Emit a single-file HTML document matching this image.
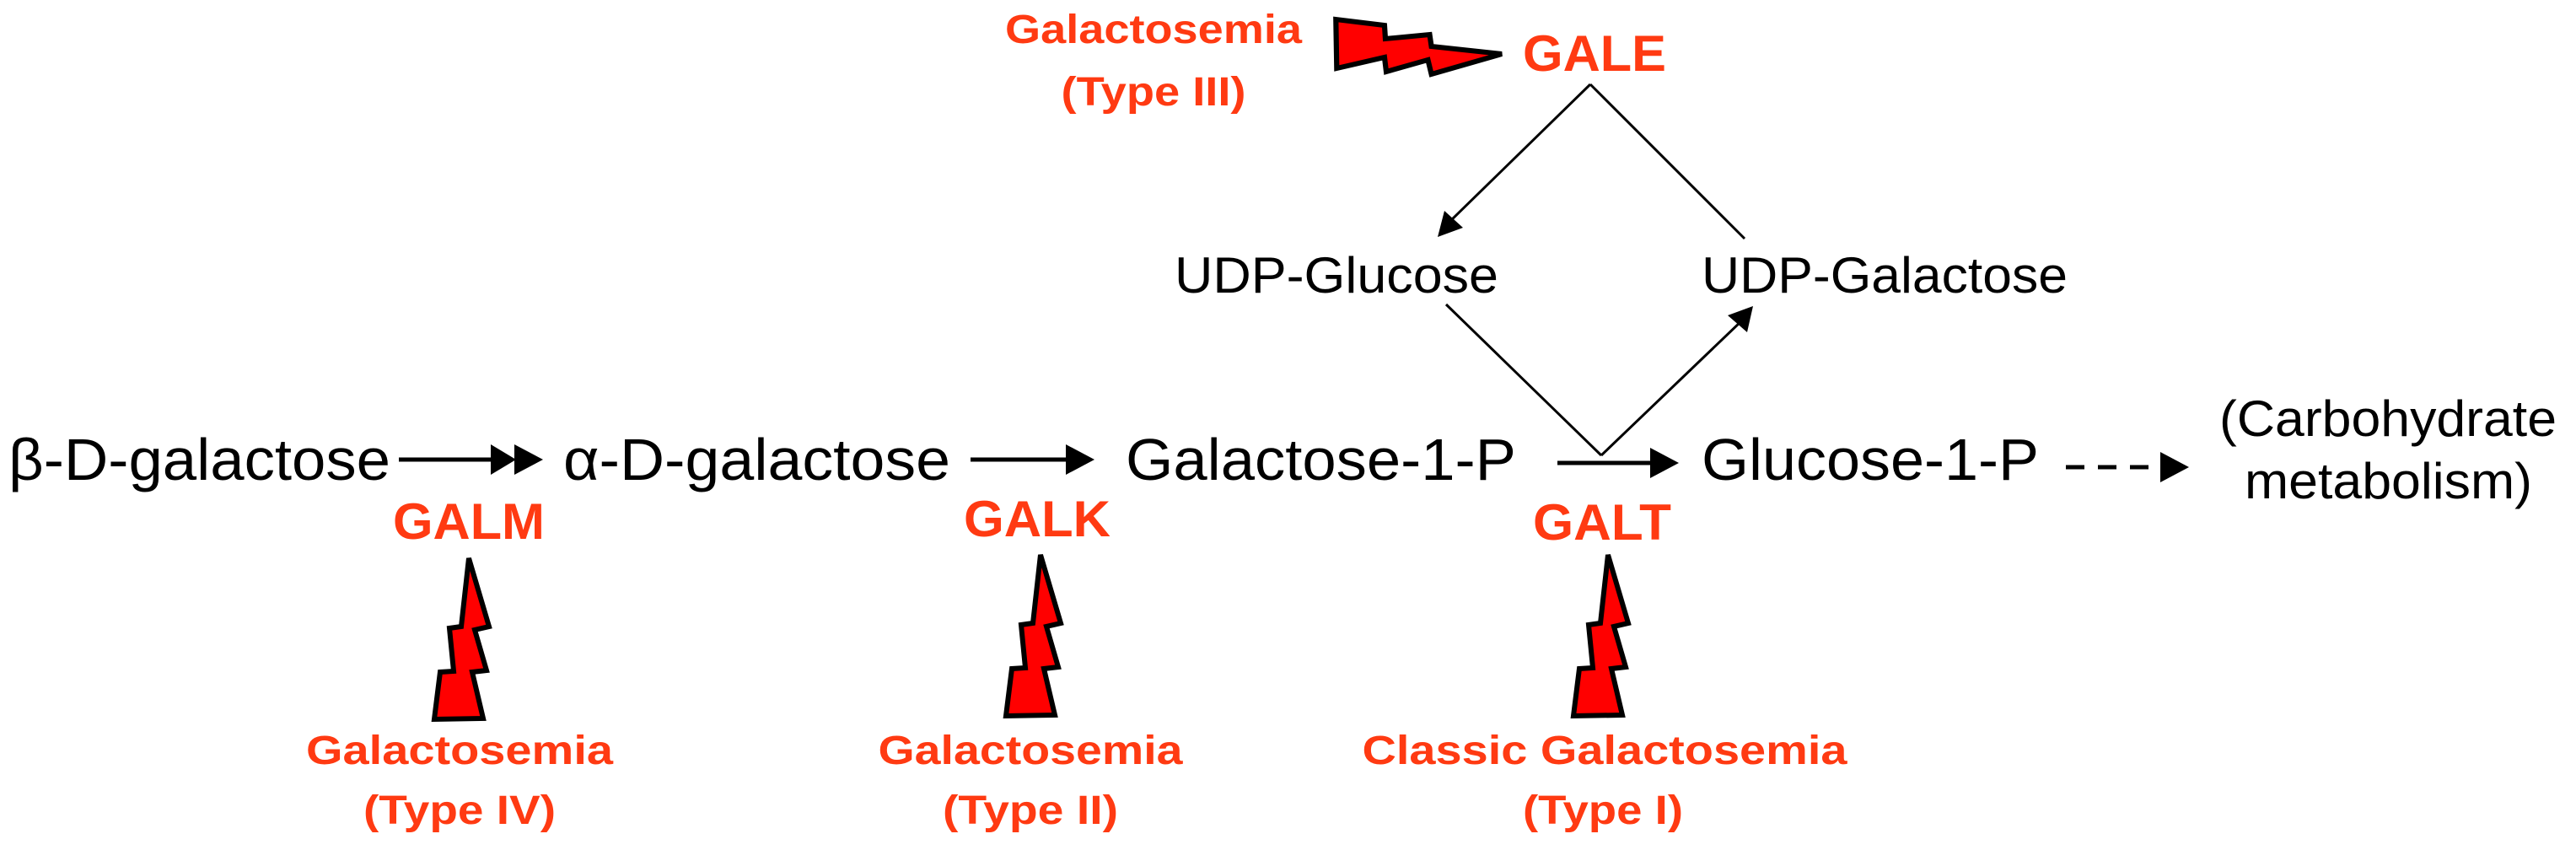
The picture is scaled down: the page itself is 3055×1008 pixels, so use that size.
<!DOCTYPE html>
<html><head><meta charset="utf-8"><style>
html,body{margin:0;padding:0;background:#fff;}
svg{display:block;}
.t{font-family:"Liberation Sans",sans-serif;fill:#000;}
.r{font-family:"Liberation Sans",sans-serif;fill:#ff3a12;font-weight:bold;}
</style></head><body>
<svg width="3055" height="1008" viewBox="0 0 3055 1008" xmlns="http://www.w3.org/2000/svg">
<defs>
<polygon id="bolt" points="0,0 24,81 7,85 21,133 4,135 17,190 -41,191 -34,135 -18,134 -23,83 -9,81" fill="#ff0000" stroke="#000" stroke-width="6" stroke-linejoin="miter"/>
</defs>
<text class="t" x="10" y="569" font-size="70" textLength="453" lengthAdjust="spacingAndGlyphs">β-D-galactose</text>
<text class="t" x="668" y="569" font-size="70" textLength="459" lengthAdjust="spacingAndGlyphs">α-D-galactose</text>
<text class="t" x="1335" y="569" font-size="70" textLength="463" lengthAdjust="spacingAndGlyphs">Galactose-1-P</text>
<text class="t" x="2018" y="569" font-size="70" textLength="400" lengthAdjust="spacingAndGlyphs">Glucose-1-P</text>
<text class="t" x="2632" y="517" font-size="60" textLength="400" lengthAdjust="spacingAndGlyphs">(Carbohydrate</text>
<text class="t" x="2662" y="591" font-size="60" textLength="341" lengthAdjust="spacingAndGlyphs">metabolism)</text>
<text class="t" x="1393" y="347" font-size="60" textLength="384" lengthAdjust="spacingAndGlyphs">UDP-Glucose</text>
<text class="t" x="2018" y="347" font-size="60" textLength="434" lengthAdjust="spacingAndGlyphs">UDP-Galactose</text>
<line x1="473" y1="545" x2="585" y2="545" stroke="#000" stroke-width="5"/>
<path d="M582,527 L612,545 L582,563z M610,527 L644,545 L610,563z" fill="#000"/>
<line x1="1151" y1="545" x2="1270" y2="545" stroke="#000" stroke-width="5"/>
<path d="M1264,527 L1298,545 L1264,563z" fill="#000"/>
<line x1="1847" y1="549" x2="1962" y2="549" stroke="#000" stroke-width="5"/>
<path d="M1957,531 L1991,549 L1957,567z" fill="#000"/>
<line x1="2450" y1="554" x2="2568" y2="554" stroke="#000" stroke-width="5" stroke-dasharray="22,16"/>
<path d="M2562,536 L2596,554 L2562,572z" fill="#000"/>
<line x1="1886" y1="100" x2="1718" y2="264" stroke="#000" stroke-width="3"/>
<path d="M1705,281 L1713,250 L1735,270z" fill="#000"/>
<line x1="1886" y1="100" x2="2069" y2="283" stroke="#000" stroke-width="3"/>
<line x1="1715" y1="361" x2="1899" y2="540" stroke="#000" stroke-width="3"/>
<line x1="1899" y1="540" x2="2066" y2="380" stroke="#000" stroke-width="3"/>
<path d="M2079,363 L2072,394 L2049,374z" fill="#000"/>
<text class="r" x="556" y="639" font-size="60" text-anchor="middle" textLength="180" lengthAdjust="spacingAndGlyphs">GALM</text>
<text class="r" x="1230" y="636" font-size="60" text-anchor="middle" textLength="174" lengthAdjust="spacingAndGlyphs">GALK</text>
<text class="r" x="1900" y="640" font-size="60" text-anchor="middle" textLength="164" lengthAdjust="spacingAndGlyphs">GALT</text>
<text class="r" x="1891" y="84" font-size="60" text-anchor="middle" textLength="170" lengthAdjust="spacingAndGlyphs">GALE</text>
<use href="#bolt" x="556" y="662"/>
<use href="#bolt" x="1234" y="658"/>
<use href="#bolt" x="1907" y="658"/>
<g transform="translate(1781,64) rotate(90)"><use href="#bolt" transform="scale(1,1.03)"/></g>
<text class="r" x="1368" y="51" font-size="48" text-anchor="middle" textLength="352" lengthAdjust="spacingAndGlyphs">Galactosemia</text>
<text class="r" x="1368" y="125" font-size="48" text-anchor="middle" textLength="219" lengthAdjust="spacingAndGlyphs">(Type III)</text>
<text class="r" x="545" y="906" font-size="48" text-anchor="middle" textLength="364" lengthAdjust="spacingAndGlyphs">Galactosemia</text>
<text class="r" x="545" y="977" font-size="48" text-anchor="middle" textLength="228" lengthAdjust="spacingAndGlyphs">(Type IV)</text>
<text class="r" x="1222" y="906" font-size="48" text-anchor="middle" textLength="361" lengthAdjust="spacingAndGlyphs">Galactosemia</text>
<text class="r" x="1222" y="977" font-size="48" text-anchor="middle" textLength="208" lengthAdjust="spacingAndGlyphs">(Type II)</text>
<text class="r" x="1903" y="906" font-size="48" text-anchor="middle" textLength="575" lengthAdjust="spacingAndGlyphs">Classic Galactosemia</text>
<text class="r" x="1901" y="977" font-size="48" text-anchor="middle" textLength="190" lengthAdjust="spacingAndGlyphs">(Type I)</text>
</svg>
</body></html>
